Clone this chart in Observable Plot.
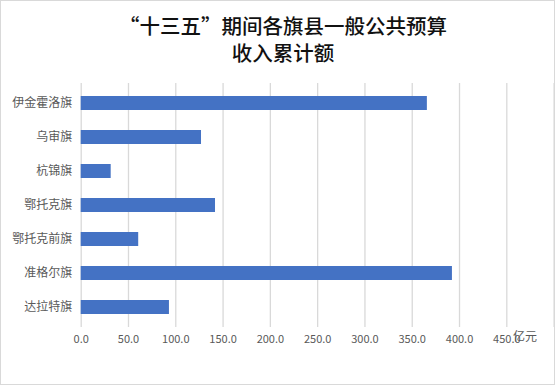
<!DOCTYPE html>
<html>
<head>
<meta charset="utf-8">
<script src="https://cdn.jsdelivr.net/npm/d3@7"></script>
<script src="https://cdn.jsdelivr.net/npm/@observablehq/plot@0.6"></script>
<style>
  html, body { margin: 0; padding: 0; background: #fff; }
  #wrap { position: relative; width: 555px; height: 385px; overflow: hidden; font-family: "Noto Sans CJK SC", "Noto Sans", sans-serif; }
  .title { position: absolute; left: 0; width: 566px; text-align: center; font-size: 20.5px; line-height: 24px; height: 24px; color: #111; font-weight: 500; white-space: nowrap; }
  #title1 { top: 13px; }
  #title2 { top: 40px; }
  #unit { position: absolute; left: 513px; top: 327px; font-size: 12px; color: #595959; }
  #border { position: absolute; left: 0; top: 0; width: 555px; height: 385px; box-sizing: border-box; border: 1px solid #d9d9d9; pointer-events: none; }
  svg { position: absolute; left: 0; top: 0; }
</style>
</head>
<body>
<div id="wrap">
  <div class="title" id="title1">“十三五”期间各旗县一般公共预算</div>
  <div class="title" id="title2">收入累计额</div>
  <div id="unit">亿元</div>
  <div id="border"></div>
</div>
<script>
const categories = ["伊金霍洛旗", "乌审旗", "杭锦旗", "鄂托克旗", "鄂托克前旗", "准格尔旗", "达拉特旗"];
const values = [366, 127.2, 31.7, 142, 60.8, 392.5, 93.3];
const tickValues = [0, 50, 100, 150, 200, 250, 300, 350, 400, 450];
const gridValues = [0, 50, 100, 150, 200, 250, 300, 350, 400, 450, 500];
const unitLabel = "亿元";

const data = categories.map((name, i) => ({name, value: values[i]}));

const chart = Plot.plot({
  width: 555,
  height: 385,
  marginTop: 83,
  marginBottom: 58,
  marginLeft: 80.7,
  marginRight: 1.4,
  style: {fontFamily: "'Noto Sans CJK SC', 'Noto Sans', sans-serif", background: "transparent", overflow: "visible"},
  x: {domain: [0, 500]},
  y: {domain: categories, paddingInner: 0.6, paddingOuter: 0.3},
  marks: [
    Plot.ruleX(gridValues, {stroke: "#d9d9d9", strokeWidth: 1.3}),
    Plot.barX(data, {x: "value", y: "name", fill: "#4472C4"}),
    Plot.axisX(tickValues, {tickSize: 0, tickPadding: 8, tickFormat: d => d.toFixed(1), fontSize: 11, color: "#595959", label: null}),
    Plot.axisY({tickSize: 0, tickPadding: 9, fontSize: 12, color: "#595959", label: null})
  ]
});
document.getElementById("wrap").insertBefore(chart, document.getElementById("title1"));
</script>
</body>
</html>
